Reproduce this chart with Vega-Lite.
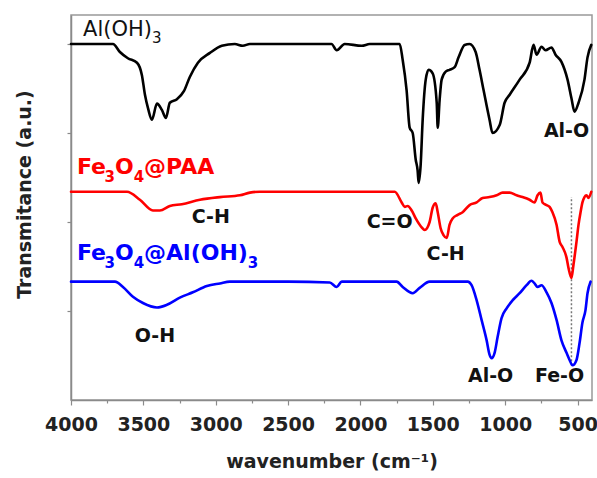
{
  "$schema": "https://vega.github.io/schema/vega-lite/v6.json",
  "width": 521,
  "height": 385,
  "autosize": "none",
  "padding": {"left": 71, "top": 15, "right": 5, "bottom": 78},
  "config": {"view": {"stroke": "#999999", "strokeWidth": 1.5}, "font": "DejaVu Sans"},
  "datasets": {
    "spectra": [
      {"series": "Al(OH)3", "w": 4000, "v": 4.00}, {"series": "Al(OH)3", "w": 3710, "v": 4.00}, {"series": "Al(OH)3", "w": 3662, "v": 3.91}, {"series": "Al(OH)3", "w": 3607, "v": 3.84}, {"series": "Al(OH)3", "w": 3544, "v": 3.79}, {"series": "Al(OH)3", "w": 3510, "v": 3.65}, {"series": "Al(OH)3", "w": 3489, "v": 3.43}, {"series": "Al(OH)3", "w": 3468, "v": 3.28}, {"series": "Al(OH)3", "w": 3441, "v": 3.15}, {"series": "Al(OH)3", "w": 3406, "v": 3.33}, {"series": "Al(OH)3", "w": 3372, "v": 3.26}, {"series": "Al(OH)3", "w": 3344, "v": 3.17}, {"series": "Al(OH)3", "w": 3317, "v": 3.34}, {"series": "Al(OH)3", "w": 3268, "v": 3.38}, {"series": "Al(OH)3", "w": 3220, "v": 3.47}, {"series": "Al(OH)3", "w": 3179, "v": 3.63}, {"series": "Al(OH)3", "w": 3123, "v": 3.79}, {"series": "Al(OH)3", "w": 3040, "v": 3.90}, {"series": "Al(OH)3", "w": 2958, "v": 3.98}, {"series": "Al(OH)3", "w": 2868, "v": 4.00}, {"series": "Al(OH)3", "w": 2813, "v": 3.98}, {"series": "Al(OH)3", "w": 2764, "v": 4.00}, {"series": "Al(OH)3", "w": 2500, "v": 4.00}, {"series": "Al(OH)3", "w": 2200, "v": 4.00}, {"series": "Al(OH)3", "w": 2164, "v": 3.93}, {"series": "Al(OH)3", "w": 2109, "v": 4.00}, {"series": "Al(OH)3", "w": 1991, "v": 3.98}, {"series": "Al(OH)3", "w": 1936, "v": 4.00}, {"series": "Al(OH)3", "w": 1729, "v": 4.00}, {"series": "Al(OH)3", "w": 1708, "v": 3.82}, {"series": "Al(OH)3", "w": 1681, "v": 3.48}, {"series": "Al(OH)3", "w": 1660, "v": 3.06}, {"series": "Al(OH)3", "w": 1639, "v": 3.00}, {"series": "Al(OH)3", "w": 1618, "v": 2.70}, {"series": "Al(OH)3", "w": 1605, "v": 2.58}, {"series": "Al(OH)3", "w": 1598, "v": 2.44}, {"series": "Al(OH)3", "w": 1584, "v": 2.64}, {"series": "Al(OH)3", "w": 1570, "v": 3.15}, {"series": "Al(OH)3", "w": 1549, "v": 3.60}, {"series": "Al(OH)3", "w": 1529, "v": 3.71}, {"series": "Al(OH)3", "w": 1501, "v": 3.67}, {"series": "Al(OH)3", "w": 1473, "v": 3.34}, {"series": "Al(OH)3", "w": 1466, "v": 3.06}, {"series": "Al(OH)3", "w": 1453, "v": 3.37}, {"series": "Al(OH)3", "w": 1439, "v": 3.60}, {"series": "Al(OH)3", "w": 1411, "v": 3.69}, {"series": "Al(OH)3", "w": 1384, "v": 3.71}, {"series": "Al(OH)3", "w": 1349, "v": 3.74}, {"series": "Al(OH)3", "w": 1322, "v": 3.85}, {"series": "Al(OH)3", "w": 1280, "v": 3.99}, {"series": "Al(OH)3", "w": 1246, "v": 4.00}, {"series": "Al(OH)3", "w": 1204, "v": 3.91}, {"series": "Al(OH)3", "w": 1177, "v": 3.71}, {"series": "Al(OH)3", "w": 1149, "v": 3.48}, {"series": "Al(OH)3", "w": 1108, "v": 3.15}, {"series": "Al(OH)3", "w": 1087, "v": 3.00}, {"series": "Al(OH)3", "w": 1038, "v": 3.09}, {"series": "Al(OH)3", "w": 1004, "v": 3.34}, {"series": "Al(OH)3", "w": 969, "v": 3.43}, {"series": "Al(OH)3", "w": 900, "v": 3.60}, {"series": "Al(OH)3", "w": 831, "v": 3.79}, {"series": "Al(OH)3", "w": 804, "v": 3.99}, {"series": "Al(OH)3", "w": 783, "v": 3.88}, {"series": "Al(OH)3", "w": 749, "v": 3.97}, {"series": "Al(OH)3", "w": 721, "v": 3.93}, {"series": "Al(OH)3", "w": 680, "v": 3.96}, {"series": "Al(OH)3", "w": 652, "v": 3.88}, {"series": "Al(OH)3", "w": 611, "v": 3.80}, {"series": "Al(OH)3", "w": 569, "v": 3.60}, {"series": "Al(OH)3", "w": 542, "v": 3.39}, {"series": "Al(OH)3", "w": 521, "v": 3.24}, {"series": "Al(OH)3", "w": 493, "v": 3.34}, {"series": "Al(OH)3", "w": 452, "v": 3.60}, {"series": "Al(OH)3", "w": 431, "v": 3.85}, {"series": "Al(OH)3", "w": 405, "v": 3.99},

      {"series": "Fe3O4@PAA", "w": 4000, "v": 2.34}, {"series": "Fe3O4@PAA", "w": 3613, "v": 2.34}, {"series": "Fe3O4@PAA", "w": 3524, "v": 2.25}, {"series": "Fe3O4@PAA", "w": 3434, "v": 2.13}, {"series": "Fe3O4@PAA", "w": 3386, "v": 2.13}, {"series": "Fe3O4@PAA", "w": 3317, "v": 2.18}, {"series": "Fe3O4@PAA", "w": 3234, "v": 2.20}, {"series": "Fe3O4@PAA", "w": 3109, "v": 2.25}, {"series": "Fe3O4@PAA", "w": 2971, "v": 2.28}, {"series": "Fe3O4@PAA", "w": 2833, "v": 2.30}, {"series": "Fe3O4@PAA", "w": 2764, "v": 2.33}, {"series": "Fe3O4@PAA", "w": 2695, "v": 2.34}, {"series": "Fe3O4@PAA", "w": 2400, "v": 2.34}, {"series": "Fe3O4@PAA", "w": 2100, "v": 2.34}, {"series": "Fe3O4@PAA", "w": 1763, "v": 2.34}, {"series": "Fe3O4@PAA", "w": 1715, "v": 2.22}, {"series": "Fe3O4@PAA", "w": 1694, "v": 2.17}, {"series": "Fe3O4@PAA", "w": 1674, "v": 2.18}, {"series": "Fe3O4@PAA", "w": 1646, "v": 2.13}, {"series": "Fe3O4@PAA", "w": 1618, "v": 2.04}, {"series": "Fe3O4@PAA", "w": 1577, "v": 1.94}, {"series": "Fe3O4@PAA", "w": 1556, "v": 1.91}, {"series": "Fe3O4@PAA", "w": 1522, "v": 2.00}, {"series": "Fe3O4@PAA", "w": 1501, "v": 2.16}, {"series": "Fe3O4@PAA", "w": 1480, "v": 2.21}, {"series": "Fe3O4@PAA", "w": 1466, "v": 2.11}, {"series": "Fe3O4@PAA", "w": 1446, "v": 1.93}, {"series": "Fe3O4@PAA", "w": 1425, "v": 1.85}, {"series": "Fe3O4@PAA", "w": 1404, "v": 1.82}, {"series": "Fe3O4@PAA", "w": 1384, "v": 1.97}, {"series": "Fe3O4@PAA", "w": 1363, "v": 2.04}, {"series": "Fe3O4@PAA", "w": 1328, "v": 2.08}, {"series": "Fe3O4@PAA", "w": 1294, "v": 2.11}, {"series": "Fe3O4@PAA", "w": 1246, "v": 2.19}, {"series": "Fe3O4@PAA", "w": 1197, "v": 2.22}, {"series": "Fe3O4@PAA", "w": 1156, "v": 2.27}, {"series": "Fe3O4@PAA", "w": 1108, "v": 2.28}, {"series": "Fe3O4@PAA", "w": 1059, "v": 2.30}, {"series": "Fe3O4@PAA", "w": 1018, "v": 2.33}, {"series": "Fe3O4@PAA", "w": 969, "v": 2.33}, {"series": "Fe3O4@PAA", "w": 921, "v": 2.30}, {"series": "Fe3O4@PAA", "w": 880, "v": 2.28}, {"series": "Fe3O4@PAA", "w": 831, "v": 2.25}, {"series": "Fe3O4@PAA", "w": 797, "v": 2.22}, {"series": "Fe3O4@PAA", "w": 776, "v": 2.30}, {"series": "Fe3O4@PAA", "w": 756, "v": 2.33}, {"series": "Fe3O4@PAA", "w": 742, "v": 2.22}, {"series": "Fe3O4@PAA", "w": 714, "v": 2.19}, {"series": "Fe3O4@PAA", "w": 693, "v": 2.17}, {"series": "Fe3O4@PAA", "w": 673, "v": 2.11}, {"series": "Fe3O4@PAA", "w": 645, "v": 1.97}, {"series": "Fe3O4@PAA", "w": 624, "v": 1.78}, {"series": "Fe3O4@PAA", "w": 604, "v": 1.72}, {"series": "Fe3O4@PAA", "w": 576, "v": 1.60}, {"series": "Fe3O4@PAA", "w": 562, "v": 1.48}, {"series": "Fe3O4@PAA", "w": 542, "v": 1.37}, {"series": "Fe3O4@PAA", "w": 528, "v": 1.52}, {"series": "Fe3O4@PAA", "w": 507, "v": 1.78}, {"series": "Fe3O4@PAA", "w": 493, "v": 1.97}, {"series": "Fe3O4@PAA", "w": 479, "v": 2.11}, {"series": "Fe3O4@PAA", "w": 466, "v": 2.22}, {"series": "Fe3O4@PAA", "w": 452, "v": 2.28}, {"series": "Fe3O4@PAA", "w": 438, "v": 2.30}, {"series": "Fe3O4@PAA", "w": 424, "v": 2.27}, {"series": "Fe3O4@PAA", "w": 405, "v": 2.34},

      {"series": "Fe3O4@Al(OH)3", "w": 4000, "v": 1.33}, {"series": "Fe3O4@Al(OH)3", "w": 3696, "v": 1.33}, {"series": "Fe3O4@Al(OH)3", "w": 3641, "v": 1.27}, {"series": "Fe3O4@Al(OH)3", "w": 3572, "v": 1.16}, {"series": "Fe3O4@Al(OH)3", "w": 3503, "v": 1.09}, {"series": "Fe3O4@Al(OH)3", "w": 3406, "v": 1.04}, {"series": "Fe3O4@Al(OH)3", "w": 3337, "v": 1.07}, {"series": "Fe3O4@Al(OH)3", "w": 3248, "v": 1.15}, {"series": "Fe3O4@Al(OH)3", "w": 3158, "v": 1.21}, {"series": "Fe3O4@Al(OH)3", "w": 3061, "v": 1.28}, {"series": "Fe3O4@Al(OH)3", "w": 2971, "v": 1.31}, {"series": "Fe3O4@Al(OH)3", "w": 2902, "v": 1.33}, {"series": "Fe3O4@Al(OH)3", "w": 2500, "v": 1.33}, {"series": "Fe3O4@Al(OH)3", "w": 2212, "v": 1.32}, {"series": "Fe3O4@Al(OH)3", "w": 2164, "v": 1.27}, {"series": "Fe3O4@Al(OH)3", "w": 2129, "v": 1.33}, {"series": "Fe3O4@Al(OH)3", "w": 1750, "v": 1.33}, {"series": "Fe3O4@Al(OH)3", "w": 1708, "v": 1.27}, {"series": "Fe3O4@Al(OH)3", "w": 1639, "v": 1.20}, {"series": "Fe3O4@Al(OH)3", "w": 1591, "v": 1.26}, {"series": "Fe3O4@Al(OH)3", "w": 1522, "v": 1.33}, {"series": "Fe3O4@Al(OH)3", "w": 1259, "v": 1.33}, {"series": "Fe3O4@Al(OH)3", "w": 1232, "v": 1.29}, {"series": "Fe3O4@Al(OH)3", "w": 1197, "v": 1.12}, {"series": "Fe3O4@Al(OH)3", "w": 1163, "v": 0.90}, {"series": "Fe3O4@Al(OH)3", "w": 1128, "v": 0.67}, {"series": "Fe3O4@Al(OH)3", "w": 1108, "v": 0.51}, {"series": "Fe3O4@Al(OH)3", "w": 1094, "v": 0.47}, {"series": "Fe3O4@Al(OH)3", "w": 1073, "v": 0.53}, {"series": "Fe3O4@Al(OH)3", "w": 1052, "v": 0.71}, {"series": "Fe3O4@Al(OH)3", "w": 1025, "v": 0.92}, {"series": "Fe3O4@Al(OH)3", "w": 990, "v": 1.03}, {"series": "Fe3O4@Al(OH)3", "w": 949, "v": 1.12}, {"series": "Fe3O4@Al(OH)3", "w": 900, "v": 1.20}, {"series": "Fe3O4@Al(OH)3", "w": 852, "v": 1.29}, {"series": "Fe3O4@Al(OH)3", "w": 818, "v": 1.34}, {"series": "Fe3O4@Al(OH)3", "w": 797, "v": 1.31}, {"series": "Fe3O4@Al(OH)3", "w": 776, "v": 1.27}, {"series": "Fe3O4@Al(OH)3", "w": 749, "v": 1.29}, {"series": "Fe3O4@Al(OH)3", "w": 714, "v": 1.21}, {"series": "Fe3O4@Al(OH)3", "w": 680, "v": 1.09}, {"series": "Fe3O4@Al(OH)3", "w": 645, "v": 0.90}, {"series": "Fe3O4@Al(OH)3", "w": 611, "v": 0.67}, {"series": "Fe3O4@Al(OH)3", "w": 576, "v": 0.53}, {"series": "Fe3O4@Al(OH)3", "w": 555, "v": 0.45}, {"series": "Fe3O4@Al(OH)3", "w": 535, "v": 0.39}, {"series": "Fe3O4@Al(OH)3", "w": 507, "v": 0.45}, {"series": "Fe3O4@Al(OH)3", "w": 486, "v": 0.64}, {"series": "Fe3O4@Al(OH)3", "w": 466, "v": 0.87}, {"series": "Fe3O4@Al(OH)3", "w": 445, "v": 1.01}, {"series": "Fe3O4@Al(OH)3", "w": 431, "v": 1.20}, {"series": "Fe3O4@Al(OH)3", "w": 410, "v": 1.33}
    ]
  },
  "encoding": {
    "x": {
      "field": "w", "type": "quantitative",
      "scale": {"domain": [400, 4000], "reverse": true, "nice": false, "zero": false},
      "axis": {
        "title": "wavenumber (cm⁻¹)",
        "values": [4000, 3750, 3500, 3250, 3000, 2750, 2500, 2250, 2000, 1750, 1500, 1250, 1000, 750, 500],
        "format": "d",
        "labelExpr": "datum.value % 500 === 0 ? datum.label : ''",
        "tickSize": {"condition": {"test": "datum.value % 500 === 0", "value": 5}, "value": 3},
        "grid": false,
        "labelOverlap": false, "labelFlush": false,
        "labelFont": "DejaVu Sans", "labelFontWeight": "bold", "labelFontSize": 19, "labelColor": "#222222", "labelPadding": 10,
        "domainColor": "#8a8a8a", "domainWidth": 1.5, "tickColor": "#8a8a8a", "tickWidth": 1.2,
        "titleFont": "DejaVu Sans", "titleFontSize": 19, "titleFontWeight": "bold", "titleColor": "#222222", "titlePadding": 18
      }
    },
    "y": {
      "field": "v", "type": "quantitative",
      "scale": {"domain": [0, 4.326], "nice": false, "zero": false},
      "axis": {
        "title": "Transmitance (a.u.)",
        "values": [1, 2, 3, 4],
        "labels": false, "grid": false, "tickSize": 4,
        "domainColor": "#8a8a8a", "domainWidth": 1.5, "tickColor": "#8a8a8a", "tickWidth": 1.2,
        "titleFont": "DejaVu Sans", "titleFontSize": 19, "titleFontWeight": "bold", "titleColor": "#222222",
        "titleX": -41, "titleY": 179, "titleBaseline": "alphabetic", "titleAlign": "center", "titleAngle": -90
      }
    }
  },
  "layer": [
    {
      "data": {"values": [{"w": 542, "v": 0.39, "v2": 2.28}]},
      "mark": {"type": "rule", "color": "#777777", "strokeDash": [2, 2], "strokeWidth": 1.5},
      "encoding": {"y2": {"field": "v2"}}
    },
    {
      "data": {"name": "spectra"},
      "mark": {"type": "line", "strokeWidth": 2.6, "interpolate": "monotone", "strokeJoin": "round", "strokeCap": "round"},
      "encoding": {
        "color": {"field": "series", "type": "nominal", "legend": null,
          "scale": {"domain": ["Al(OH)3", "Fe3O4@PAA", "Fe3O4@Al(OH)3"], "range": ["#000000", "#ff0000", "#0000ff"]}},
        "detail": {"field": "series"}
      }
    },
    {
      "data": {"values": [
        {"t": "C-H", "w": 3034, "v": 1.99}, {"t": "C=O", "w": 1798, "v": 1.93}, {"t": "C-H", "w": 1411, "v": 1.57},
        {"t": "Al-O", "w": 576, "v": 2.96}, {"t": "O-H", "w": 3420, "v": 0.65}, {"t": "Al-O", "w": 1101, "v": 0.20}, {"t": "Fe-O", "w": 624, "v": 0.20}
      ]},
      "mark": {"type": "text", "font": "DejaVu Sans", "fontWeight": "bold", "fontSize": 19, "color": "#111111", "align": "center", "baseline": "alphabetic"},
      "encoding": {"text": {"field": "t"}}
    },
    {
      "data": {"values": [{"t": "Al(OH)", "w": 3917, "v": 4.09}]},
      "mark": {"type": "text", "font": "DejaVu Sans", "fontSize": 21, "color": "#111111", "align": "left", "baseline": "alphabetic"},
      "encoding": {"text": {"field": "t"}}
    },
    {
      "data": {"values": [{"t": "3", "w": 3441, "v": 4.01}]},
      "mark": {"type": "text", "font": "DejaVu Sans", "fontSize": 15, "color": "#111111", "align": "left", "baseline": "alphabetic"},
      "encoding": {"text": {"field": "t"}}
    },
    {
      "data": {"values": [{"t": "Fe", "w": 3959, "v": 2.54}, {"t": "O", "w": 3696, "v": 2.54}, {"t": "@PAA", "w": 3495, "v": 2.54}]},
      "mark": {"type": "text", "font": "DejaVu Sans", "fontWeight": "bold", "fontSize": 22, "color": "#ff0000", "align": "left", "baseline": "alphabetic"},
      "encoding": {"text": {"field": "t"}}
    },
    {
      "data": {"values": [{"t": "3", "w": 3768, "v": 2.45}, {"t": "4", "w": 3567, "v": 2.45}]},
      "mark": {"type": "text", "font": "DejaVu Sans", "fontWeight": "bold", "fontSize": 15, "color": "#ff0000", "align": "left", "baseline": "alphabetic"},
      "encoding": {"text": {"field": "t"}}
    },
    {
      "data": {"values": [{"t": "Fe", "w": 3959, "v": 1.57}, {"t": "O", "w": 3696, "v": 1.57}, {"t": "@Al(OH)", "w": 3495, "v": 1.57}]},
      "mark": {"type": "text", "font": "DejaVu Sans", "fontWeight": "bold", "fontSize": 22, "color": "#0000ff", "align": "left", "baseline": "alphabetic"},
      "encoding": {"text": {"field": "t"}}
    },
    {
      "data": {"values": [{"t": "3", "w": 3768, "v": 1.48}, {"t": "4", "w": 3567, "v": 1.48}, {"t": "3", "w": 2778, "v": 1.48}]},
      "mark": {"type": "text", "font": "DejaVu Sans", "fontWeight": "bold", "fontSize": 15, "color": "#0000ff", "align": "left", "baseline": "alphabetic"},
      "encoding": {"text": {"field": "t"}}
    }
  ]
}
